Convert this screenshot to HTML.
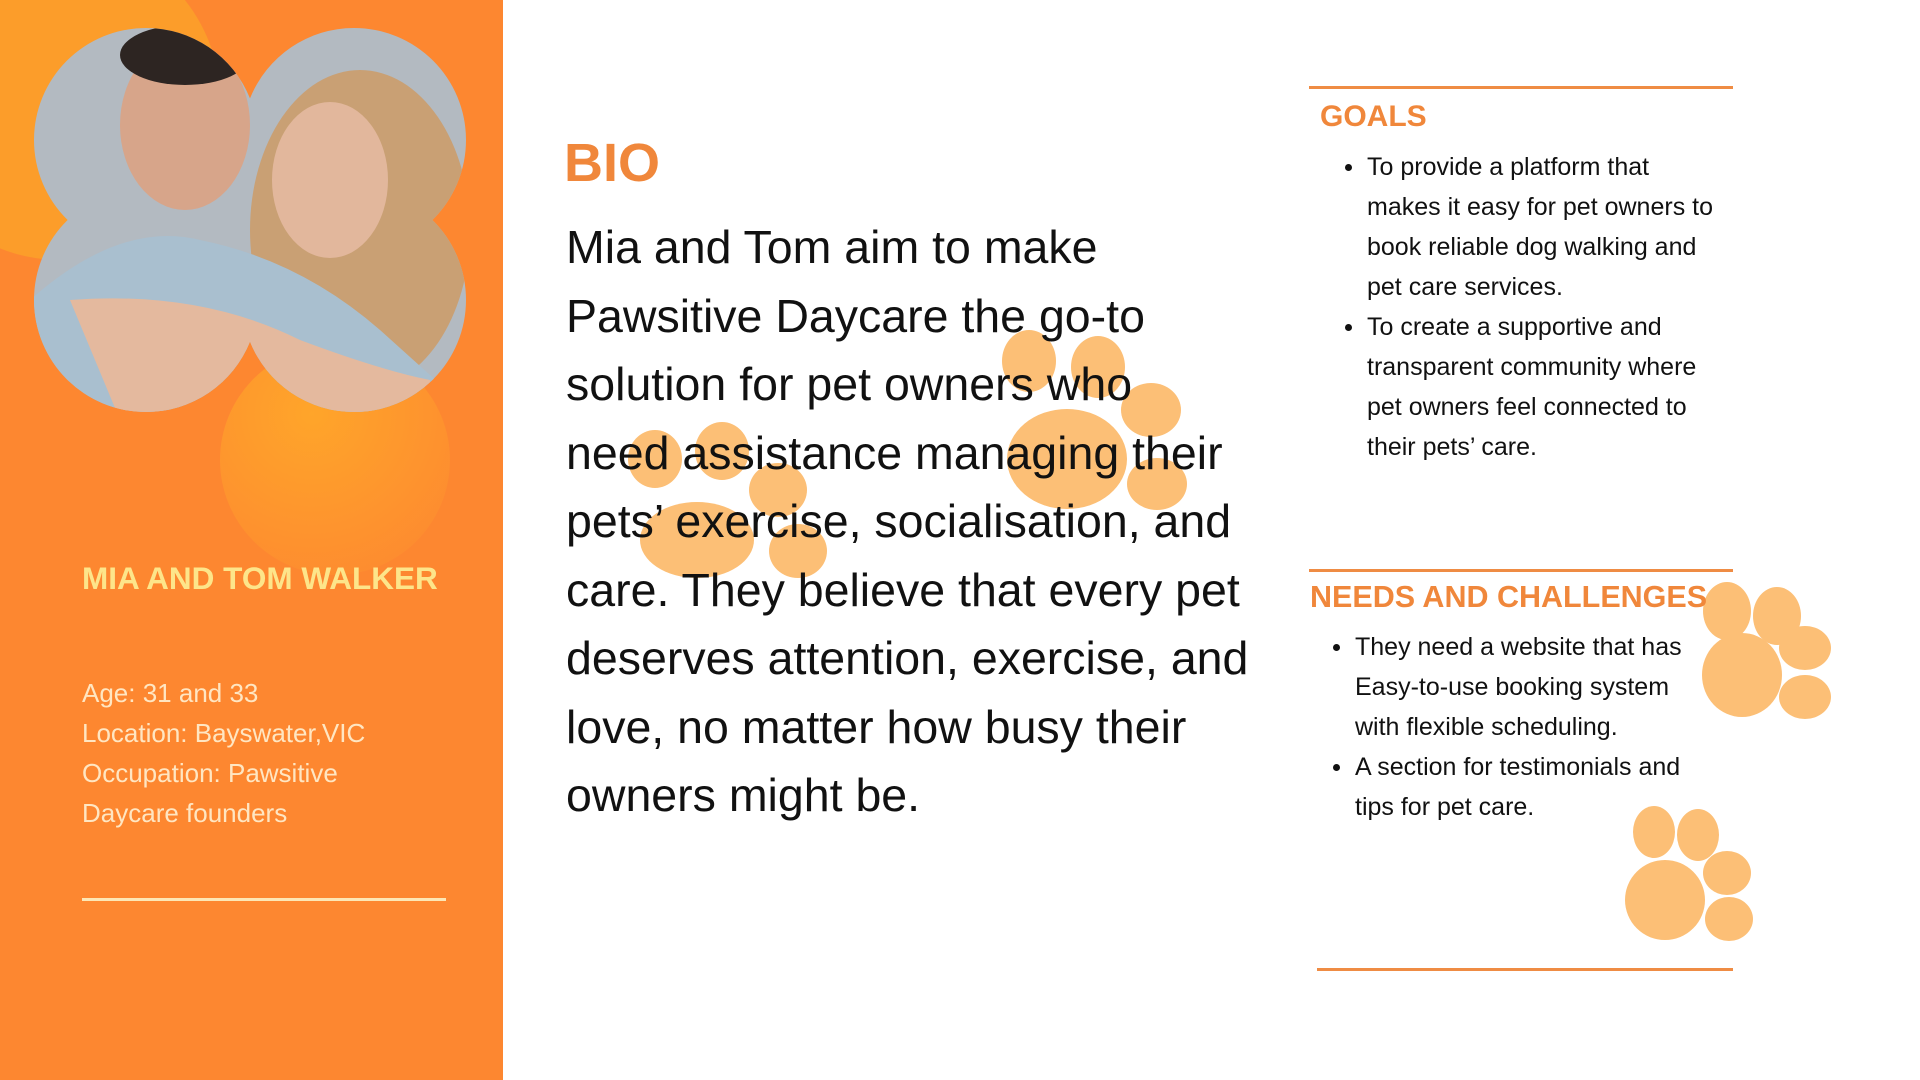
<!DOCTYPE html>
<html><head><meta charset="utf-8"><style>
*{margin:0;padding:0;box-sizing:border-box}
body{width:1920px;height:1080px;overflow:hidden;background:#fff;font-family:"Liberation Sans",sans-serif;position:relative}
.abs{position:absolute}
#side{left:0;top:0;width:503px;height:1080px;background:#fd8730;overflow:hidden}
.t{position:absolute;white-space:nowrap}
ul{list-style:none}
li{position:relative}
li:before{content:"";position:absolute;left:-22px;top:17px;width:7px;height:7px;border-radius:50%;background:#111}
</style></head><body>
<div id="side" class="abs">
<svg width="503" height="1080" class="abs" style="left:0;top:0">
<defs>
<clipPath id="cp"><circle cx="146" cy="140" r="112"/><circle cx="354" cy="140" r="112"/><circle cx="146" cy="300" r="112"/><circle cx="354" cy="300" r="112"/><rect x="140" y="120" width="220" height="200"/></clipPath>
<radialGradient id="lg" cx="0.4" cy="0.3" r="0.8"><stop offset="0" stop-color="#ffa52a"/><stop offset="1" stop-color="#fd8a30"/></radialGradient>
</defs>
<circle cx="60" cy="100" r="160" fill="#fc9d2a"/>
<circle cx="335" cy="460" r="115" fill="url(#lg)"/>
<g clip-path="url(#cp)">
<rect x="30" y="20" width="450" height="400" fill="#b3bac1"/>
<ellipse cx="360" cy="230" rx="110" ry="160" fill="#c9a074"/>
<ellipse cx="330" cy="180" rx="58" ry="78" fill="#e2b79c"/>
<ellipse cx="185" cy="125" rx="65" ry="85" fill="#d7a58a"/>
<ellipse cx="185" cy="55" rx="65" ry="30" fill="#2d2522"/>
<path d="M30 300 Q120 220 200 240 Q300 260 380 330 L480 420 L30 420Z" fill="#a9bfcf"/>
<path d="M70 300 Q200 290 300 340 Q380 370 430 380 L430 420 L120 420Z" fill="#e4b99e"/>
</g>
</svg>
<div class="t" style="left:82px;top:560px;font-size:31.5px;font-weight:bold;color:#fde58a">MIA AND TOM WALKER</div>
<div class="t" style="left:82px;top:673px;font-size:26px;line-height:40px;color:#ffe6c2">Age: 31 and 33<br>Location: Bayswater,VIC<br>Occupation: Pawsitive<br>Daycare founders</div>
<div class="abs" style="left:82px;top:898px;width:364px;height:3px;background:#fde7b5"></div>
</div>

<svg width="1920" height="1080" class="abs" style="left:0;top:0">
<g fill="#fcbf76">
<ellipse cx="1067" cy="459" rx="60" ry="50"/><ellipse cx="1029" cy="361" rx="27" ry="31"/><ellipse cx="1098" cy="367" rx="27" ry="31"/><ellipse cx="1151" cy="410" rx="30" ry="27"/><ellipse cx="1157" cy="484" rx="30" ry="26"/>
<ellipse cx="697" cy="540" rx="57" ry="38"/><ellipse cx="655" cy="459" rx="27" ry="29"/><ellipse cx="722" cy="451" rx="27" ry="29"/><ellipse cx="778" cy="490" rx="29" ry="27"/><ellipse cx="798" cy="551" rx="29" ry="27"/>
<ellipse cx="1742" cy="675" rx="40" ry="42"/><ellipse cx="1727" cy="611" rx="24" ry="29"/><ellipse cx="1777" cy="616" rx="24" ry="29"/><ellipse cx="1805" cy="648" rx="26" ry="22"/><ellipse cx="1805" cy="697" rx="26" ry="22"/>
<ellipse cx="1665" cy="900" rx="40" ry="40"/><ellipse cx="1654" cy="832" rx="21" ry="26"/><ellipse cx="1698" cy="835" rx="21" ry="26"/><ellipse cx="1727" cy="873" rx="24" ry="22"/><ellipse cx="1729" cy="919" rx="24" ry="22"/>
</g></svg>

<div class="t" style="left:564px;top:132px;font-size:54px;font-weight:bold;color:#f0873b">BIO</div>
<div class="abs" style="left:566px;top:213px;width:780px;font-size:46.5px;line-height:68.5px;color:#111">Mia and Tom aim to make<br>Pawsitive Daycare the go-to<br>solution for pet owners who<br>need assistance managing their<br>pets’ exercise, socialisation, and<br>care. They believe that every pet<br>deserves attention, exercise, and<br>love, no matter how busy their<br>owners might be.</div>

<div class="abs" style="left:1309px;top:86px;width:424px;height:3px;background:#ef8c44"></div>
<div class="t" style="left:1320px;top:100px;font-size:30px;font-weight:bold;color:#f0873b">GOALS</div>
<ul class="abs" style="left:1367px;top:147px;font-size:25px;line-height:40px;color:#111">
<li>To provide a platform that<br>makes it easy for pet owners to<br>book reliable dog walking and<br>pet care services.</li>
<li>To create a supportive and<br>transparent community where<br>pet owners feel connected to<br>their pets’ care.</li>
</ul>

<div class="abs" style="left:1309px;top:569px;width:424px;height:3px;background:#ef8c44"></div>
<div class="t" style="left:1310px;top:580px;font-size:30.5px;font-weight:bold;color:#f0873b">NEEDS AND CHALLENGES</div>
<ul class="abs" style="left:1355px;top:627px;font-size:25px;line-height:40px;color:#111">
<li>They need a website that has<br>Easy-to-use booking system<br>with flexible scheduling.</li>
<li>A section for testimonials and<br>tips for pet care.</li>
</ul>
<div class="abs" style="left:1317px;top:968px;width:416px;height:3px;background:#ef8c44"></div>
</body></html>
